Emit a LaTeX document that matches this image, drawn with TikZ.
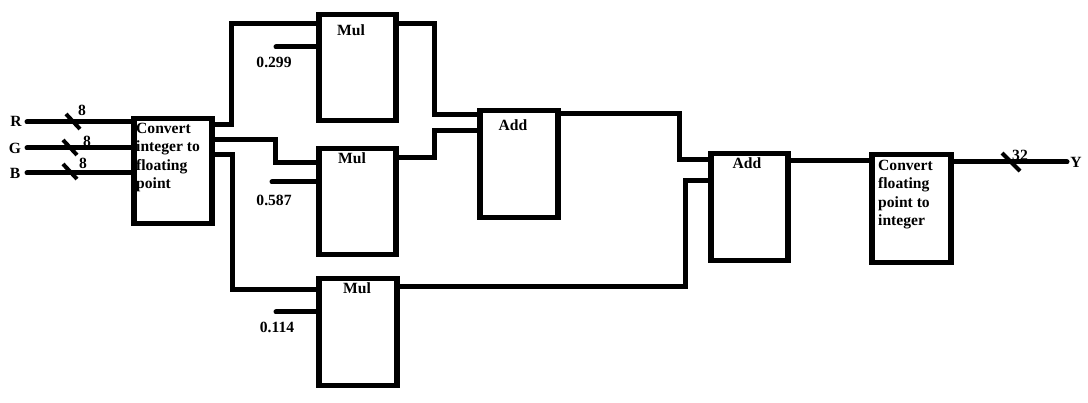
\documentclass[tikz,border=0pt]{standalone}
\usepackage{fontspec}
\setmainfont{Liberation Serif}
\usetikzlibrary{calc}
\begin{document}
\begin{tikzpicture}[x=1pt,y=-1pt,
  blk/.style={draw, line width=5.5pt, minimum width=#1, anchor=north west, inner sep=0},
  wire/.style={line width=5pt, line cap=round},
  tick/.style={line width=4pt},
  lbl/.style={font=\fontsize{15.6}{18.6}\selectfont\bfseries, inner sep=0},
  txt/.style={font=\fontsize{15.6}{18.6}\selectfont\bfseries, inner sep=0, align=left, anchor=north west}]
\useasboundingbox (0,0) rectangle (1088,403);
% boxes
\node[blk=78, minimum height=105] (conv1) at (131,116) {};
\node[blk=77, minimum height=106] (mul1) at (316,12) {};
\node[blk=77, minimum height=106] (mul2) at (316,146) {};
\node[blk=78, minimum height=107] (mul3) at (316,276) {};
\node[blk=78, minimum height=107] (add1) at (477,108) {};
\node[blk=77, minimum height=107] (add2) at (708,151) {};
\node[blk=79, minimum height=108] (conv2) at (869,152) {};
% box texts
\node[txt] (t1) at (136,122.5) {Convert\\integer to\\floating\\point};
\node[txt] (t2) at (878,159.5) {Convert\\floating\\point to\\integer};
\node[lbl] (lm1) at (351,30.5) {Mul};
\node[lbl] (lm2) at (352,158) {Mul};
\node[lbl] (lm3) at (357,288) {Mul};
\node[lbl] (la1) at (513,125.5) {Add};
\node[lbl] (la2) at (747,163) {Add};
% inputs
\node[lbl] (lr) at (16,121) {R};
\node[lbl] (lg) at (15,148) {G};
\node[lbl] (lb) at (15,173) {B};
\coordinate (rin) at (27,122);
\coordinate (gin) at (27,148);
\coordinate (bin) at (27,173);
\draw[wire] (rin) -- (rin -| conv1.west);
\draw[wire] (gin) -- (gin -| conv1.west);
\draw[wire] (bin) -- (bin -| conv1.west);
\draw[tick] (66,114) -- (80,129);
\draw[tick] (63,140) -- (77,155);
\draw[tick] (63,164) -- (77,179);
\node[lbl] (n8a) at (82,110) {8};
\node[lbl] (n8b) at (87,141) {8};
\node[lbl] (n8c) at (83,163) {8};
% conv1 outputs
\draw[wire] (conv1.east |- 0,125) -- (231,125) -- (231,24) -- (mul1.west |- 0,24);
\draw[wire] (conv1.east |- 0,140) -- (275,140) -- (275,163) -- (mul2.west |- 0,163);
\draw[wire] (conv1.east |- 0,155) -- (232,155) -- (232,290) -- (mul3.west |- 0,290);
% constants
\coordinate (k1) at (276,47);
\coordinate (k2) at (272,182);
\coordinate (k3) at (276,312);
\draw[wire] (k1) -- (k1 -| mul1.west);
\draw[wire] (k2) -- (k2 -| mul2.west);
\draw[wire] (k3) -- (k3 -| mul3.west);
\node[lbl] (c1) at (274,62) {0.299};
\node[lbl] (c2) at (274,200) {0.587};
\node[lbl] (c3) at (277,327) {0.114};
% mul outputs
\draw[wire] (mul1.east |- 0,24) -- (434,24) -- (434,115) -- (add1.west |- 0,115);
\draw[wire] (mul2.east |- 0,158) -- (434,158) -- (434,131) -- (add1.west |- 0,131);
\draw[wire] (mul3.east |- 0,287) -- (685,287) -- (685,181) -- (add2.west |- 0,181);
% add outputs
\draw[wire] (add1.east |- 0,114) -- (679,114) -- (679,160) -- (add2.west |- 0,160);
\draw[wire] (add2.east |- 0,161) -- (conv2.west |- 0,161);
% output
\coordinate (yout) at (1067,162);
\draw[wire] (conv2.east |- yout) -- (yout);
\draw[tick] (1002,153) -- (1020,171);
\node[lbl] (n32) at (1020,155) {32};
\node[lbl] (ly) at (1076,162) {Y};
\end{tikzpicture}
\end{document}
